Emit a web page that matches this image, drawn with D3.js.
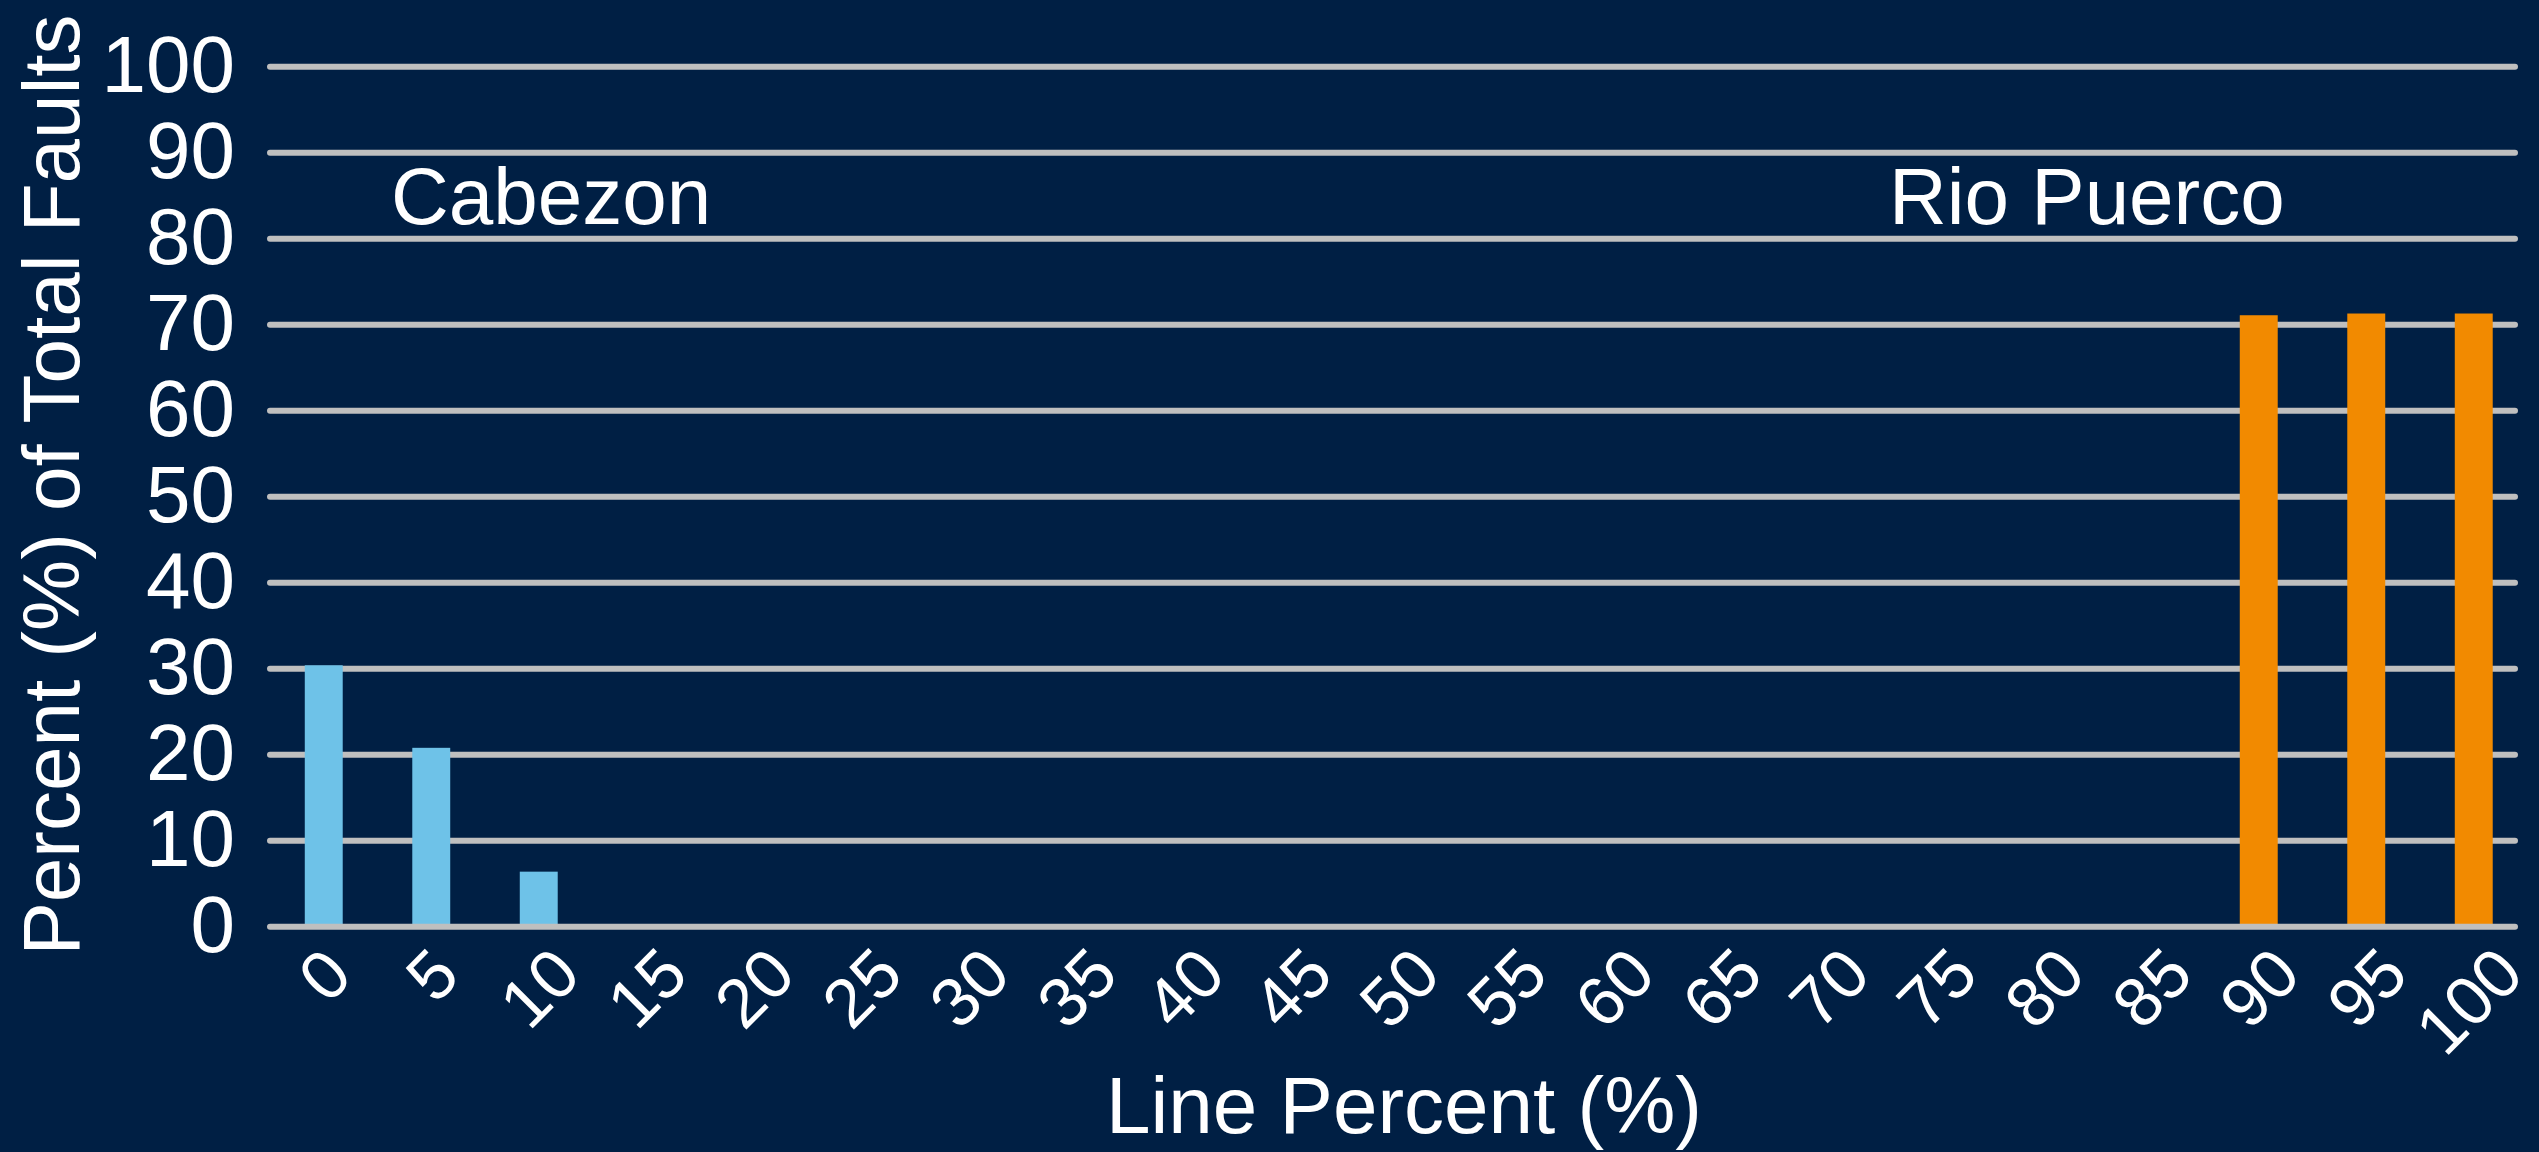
<!DOCTYPE html>
<html>
<head>
<meta charset="utf-8">
<script src="https://cdn.jsdelivr.net/npm/d3@7"></script>
<style>
  html, body { margin: 0; padding: 0; background: #001F44; }
  svg { display: block; }
  text { font-family: "Liberation Sans", Arial, Helvetica, sans-serif; fill: #ffffff; }
</style>
</head>
<body>
<svg id="chart" width="2539" height="1152"></svg>
<script>
// Line position categories (percent along the line)
const categories = ["0", "5", "10", "15", "20", "25", "30", "35", "40", "45", "50",
                    "55", "60", "65", "70", "75", "80", "85", "90", "95", "100"];
// Percent of total faults per category, one array per line
const cabezon    = [30.4, 20.8, 6.4, 0, 0, 0, 0, 0, 0, 0, 0, 0, 0, 0, 0, 0, 0, 0, 0, 0, 0];
const rioPuerco  = [0, 0, 0, 0, 0, 0, 0, 0, 0, 0, 0, 0, 0, 0, 0, 0, 0, 0, 71.1, 71.3, 71.3];
const yTicks     = [0, 10, 20, 30, 40, 50, 60, 70, 80, 90, 100];
const seriesNames = ["Cabezon", "Rio Puerco"];

const W = 2539, H = 1152;
const plotLeft = 270, gridRight = 2515, bandRight = 2527.5;
const plotTop = 66.7, plotBottom = 926.7;

const colors = { Cabezon: "#6EC2E8", "Rio Puerco": "#F28A00" };
const gridColor = "#BFBFBF";

const svg = d3.select("#chart");
svg.append("rect").attr("width", W).attr("height", H).attr("fill", "#001F44");

const x = d3.scaleBand().domain(categories).range([plotLeft, bandRight])
  .paddingInner(0.647).paddingOuter(0.3235);
const y = d3.scaleLinear().domain([0, 100]).range([plotBottom, plotTop]);

// horizontal gridlines
const grid = svg.append("g");
grid.selectAll("line").data(yTicks.filter(t => t !== 0)).join("line")
  .attr("x1", plotLeft).attr("x2", gridRight)
  .attr("y1", d => y(d)).attr("y2", d => y(d))
  .attr("stroke", gridColor).attr("stroke-width", 6).attr("stroke-linecap", "round");

// bars
const rows = [
  { name: "Cabezon", values: cabezon },
  { name: "Rio Puerco", values: rioPuerco }
];
const barData = [];
rows.forEach(r => r.values.forEach((v, i) => {
  if (v > 0) barData.push({ series: r.name, cat: categories[i], value: v });
}));
svg.append("g").selectAll("rect").data(barData).join("rect")
  .attr("x", d => x(d.cat))
  .attr("width", x.bandwidth())
  .attr("y", d => y(d.value))
  .attr("height", d => y(0) - y(d.value))
  .attr("fill", d => colors[d.series]);

// baseline on top of the bars
svg.append("line")
  .attr("x1", plotLeft).attr("x2", gridRight)
  .attr("y1", y(0)).attr("y2", y(0))
  .attr("stroke", gridColor).attr("stroke-width", 6).attr("stroke-linecap", "round");

// y axis labels
const yAxis = d3.axisLeft(y).tickValues(yTicks).tickSize(0).tickPadding(0);
const yg = svg.append("g").attr("transform", "translate(235,0)").call(yAxis);
yg.select(".domain").remove();
yg.selectAll("text")
  .attr("font-size", 80)
  .attr("fill", "#ffffff")
  .attr("font-family", "\"Liberation Sans\", Arial, sans-serif")
  .attr("dy", null)
  .attr("y", 24.6);

// x axis labels, rotated -45 degrees, top edge aligned, kept inside the canvas
const xFont = 69;
const xLabelTop = 944;
const xg = svg.append("g");
xg.selectAll("text").data(categories).join("text")
  .attr("font-size", xFont)
  .attr("text-anchor", "middle")
  .attr("dy", "0.358em")
  .text(d => d)
  .each(function (d) {
    const adv = this.getComputedTextLength();
    const w = adv * 0.95;
    const h = 0.72 * xFont;
    const boxHalf = (adv + 1.15 * xFont) * Math.SQRT1_2 / 2;
    const cx = Math.min(x(d) + x.bandwidth() / 2, W - boxHalf - 2);
    const cy = xLabelTop + (w + h) * Math.SQRT1_2 / 2;
    d3.select(this).attr("transform", `translate(${cx},${cy}) rotate(-45)`);
  });

// axis titles
svg.append("text")
  .attr("transform", "translate(79,485) rotate(-90)")
  .attr("text-anchor", "middle")
  .attr("font-size", 80)
  .text("Percent (%) of Total Faults");

svg.append("text")
  .attr("x", 1404).attr("y", 1133)
  .attr("text-anchor", "middle")
  .attr("font-size", 80)
  .text("Line Percent (%)");

// series name labels
svg.append("text").attr("x", 391).attr("y", 224).attr("font-size", 80).text(seriesNames[0]);
svg.append("text").attr("x", 1889).attr("y", 224).attr("font-size", 80).text(seriesNames[1]);
</script>
</body>
</html>
